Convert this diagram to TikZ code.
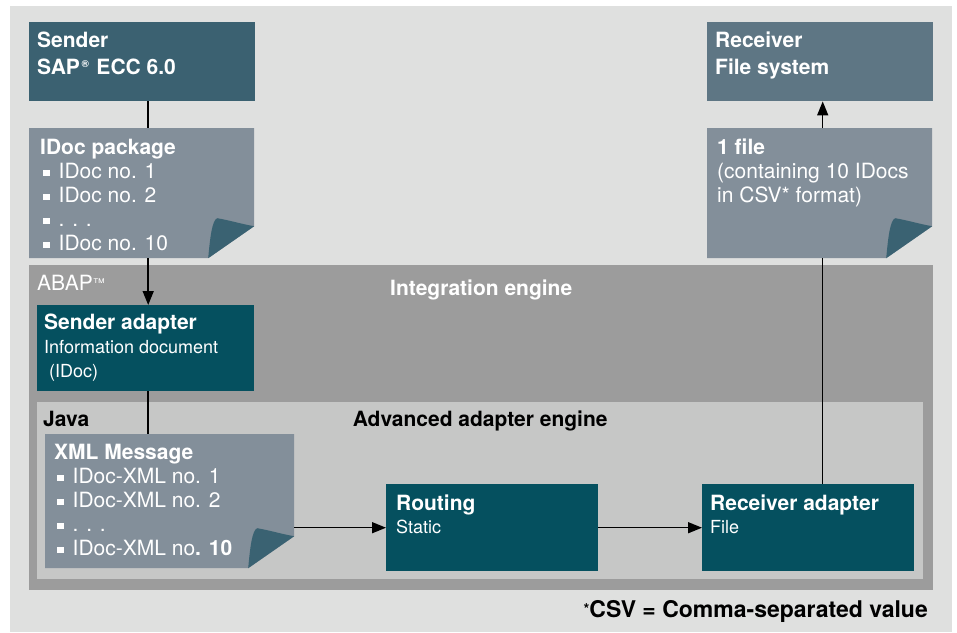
\documentclass[tikz,border=0pt]{standalone}
\usepackage{fontspec}
\setmainfont{TeX Gyre Heros}
\usetikzlibrary{arrows.meta}
\definecolor{outerbg}{HTML}{DFE0DF}
\definecolor{abapgrey}{HTML}{9C9C9C}
\definecolor{javagrey}{HTML}{C6C7C6}
\definecolor{tealbox}{HTML}{05505F}
\definecolor{docgrey}{HTML}{838F9A}
\definecolor{foldblue}{HTML}{3A6272}
\definecolor{senderblue}{HTML}{3B6171}
\definecolor{receiverblue}{HTML}{5E7684}
\newcommand{\boxtitle}[1]{{\rule{0pt}{17pt}\bfseries\fontsize{21}{24}\selectfont #1}}
\newcommand{\docbullet}{\hspace{3pt}\rule[2pt]{6.5pt}{6.5pt}\hspace{9pt}}
\begin{document}
\begin{tikzpicture}[x=1pt,y=-1pt]
\tikzset{>={Triangle[length=14pt,width=11pt]}}
\tikzset{
  area/.style={anchor=north west, inner sep=0pt, fill=#1},
  hostbox/.style={area=#1, minimum width=226pt, minimum height=79pt},
  adapter/.style={area=tealbox, minimum height=87pt},
  docpage/.style={anchor=north west, inner sep=0pt,
    path picture={
      \fill[docgrey] (path picture bounding box.north west) -- (path picture bounding box.north east)
        -- ([yshift=32pt]path picture bounding box.south east) -- ([xshift=-46pt]path picture bounding box.south east)
        -- (path picture bounding box.south west) -- cycle;
      \fill[foldblue] ([xshift=-46pt]path picture bounding box.south east)
        .. controls ([xshift=-44pt,yshift=22pt]path picture bounding box.south east) and ([xshift=-42pt,yshift=38pt]path picture bounding box.south east)
        .. ([xshift=-37pt,yshift=40pt]path picture bounding box.south east)
        .. controls ([xshift=-25pt,yshift=38pt]path picture bounding box.south east) and ([xshift=-12pt,yshift=34pt]path picture bounding box.south east)
        .. ([yshift=32pt]path picture bounding box.south east) -- cycle;
    }},
  boxtext/.style={anchor=north west, inner sep=0pt, align=left, text=white, font=\fontsize{21}{24}\selectfont},
  conn/.style={line width=1.5pt, black}
}
\useasboundingbox (0,0) rectangle (957,632);
% areas
\node[area=outerbg, minimum width=942pt, minimum height=626pt] (outer) at (10,6) {};
\node[area=abapgrey, minimum width=904pt, minimum height=325pt] (abap) at (29,265) {};
\node[area=javagrey, minimum width=886pt, minimum height=177pt] (java) at (37,402) {};
\node[anchor=base west, inner sep=0pt, text=white, font=\fontsize{21}{24}\selectfont] (abaplbl) at ([shift={(8,25)}]abap.north west) {ABAP{\fontsize{12}{12}\selectfont\raisebox{3pt}{™}}};
\node[anchor=base, inner sep=0pt, text=white, font=\bfseries\fontsize{21}{24}\selectfont] (abaptitle) at ([yshift=-30pt]abap.north) {Integration engine};
\node[anchor=base west, inner sep=0pt, font=\bfseries\fontsize{21}{24}\selectfont] (javalbl) at ([shift={(6,24)}]java.north west) {Java};
\node[anchor=base, inner sep=0pt, font=\bfseries\fontsize{21}{24}\selectfont] (javatitle) at ([yshift=-24pt]java.north) {Advanced adapter engine};

% systems and documents
\node[hostbox=senderblue] (sender) at (29,22) {};
\node[hostbox=receiverblue] (receiver) at (707,22) {};
\node[docpage, minimum width=225pt, minimum height=130pt] (idocpkg) at (29,128) {};
\node[docpage, minimum width=225pt, minimum height=130pt] (onefile) at (707,128) {};
\node[adapter, minimum width=217pt, minimum height=86pt] (senderad) at (37,305) {};
\node[docpage, minimum width=249pt, minimum height=134pt] (xmlmsg) at (45,434) {};
\node[adapter, minimum width=212pt] (routing) at (386,484) {};
\node[adapter, minimum width=212pt] (recad) at (702,484) {};

\node[boxtext, font=\fontsize{21}{27}\selectfont] (sendertxt) at ([shift={(8,8)}]sender.north west) {\boxtitle{Sender}\\\boxtitle{SAP{\fontsize{10}{10}\selectfont\raisebox{7pt}{\,®\,}} ECC 6.0}};
\node[boxtext, font=\fontsize{21}{27}\selectfont] (receivertxt) at ([shift={(8,8)}]receiver.north west) {\boxtitle{Receiver}\\\boxtitle{File system}};
\node[boxtext] (idocpkgtxt) at ([shift={(11,9)}]idocpkg.north west) {\boxtitle{IDoc package}\\\docbullet IDoc no. 1\\\docbullet IDoc no. 2\\\docbullet . . .\\\docbullet IDoc no. 10};
\node[boxtext] (onefiletxt) at ([shift={(10,9)}]onefile.north west) {\boxtitle{1 file}\\(containing 10 IDocs\\in CSV* format)};
\node[boxtext, font=\fontsize{18}{24}\selectfont] (senderadtxt) at ([shift={(7,7)}]senderad.north west) {\boxtitle{Sender adapter}\\Information document\\\ (IDoc)};
\node[boxtext] (xmlmsgtxt) at ([shift={(9,8)}]xmlmsg.north west) {\boxtitle{XML Message}\\\docbullet IDoc-XML no. 1\\\docbullet IDoc-XML no. 2\\\docbullet . . .\\\docbullet IDoc-XML no\textbf{. 10}};
\node[boxtext, font=\fontsize{18}{23}\selectfont] (routingtxt) at ([shift={(10,9)}]routing.north west) {\boxtitle{Routing}\\Static};
\node[boxtext, font=\fontsize{18}{23}\selectfont] (recadtxt) at ([shift={(8,9)}]recad.north west) {\boxtitle{Receiver adapter}\\File};

% connectors
\coordinate (leftline) at ([xshift=6pt]sender.south);
\coordinate (rightline) at ([xshift=3pt]onefile.south);
\draw[conn] (leftline) -- (leftline |- idocpkg.north);
\draw[conn,->] (leftline |- idocpkg.south) -- (leftline |- senderad.north);
\draw[conn] (leftline |- senderad.south) -- (leftline |- xmlmsg.north);
\draw[conn,->] (xmlmsg.east |- routing.west) -- (routing.west);
\draw[conn,->] (routing) -- (recad);
\draw[conn] (rightline |- recad.north) -- (rightline);
\draw[conn,->] (rightline |- onefile.north) -- (rightline |- receiver.south);

\node[anchor=base east, inner sep=0pt, font=\bfseries\fontsize{23}{24}\selectfont] (footnote) at (928,617) {{\fontsize{15}{15}\selectfont\raisebox{3pt}{*}}CSV = Comma-separated value};
\end{tikzpicture}
\end{document}
